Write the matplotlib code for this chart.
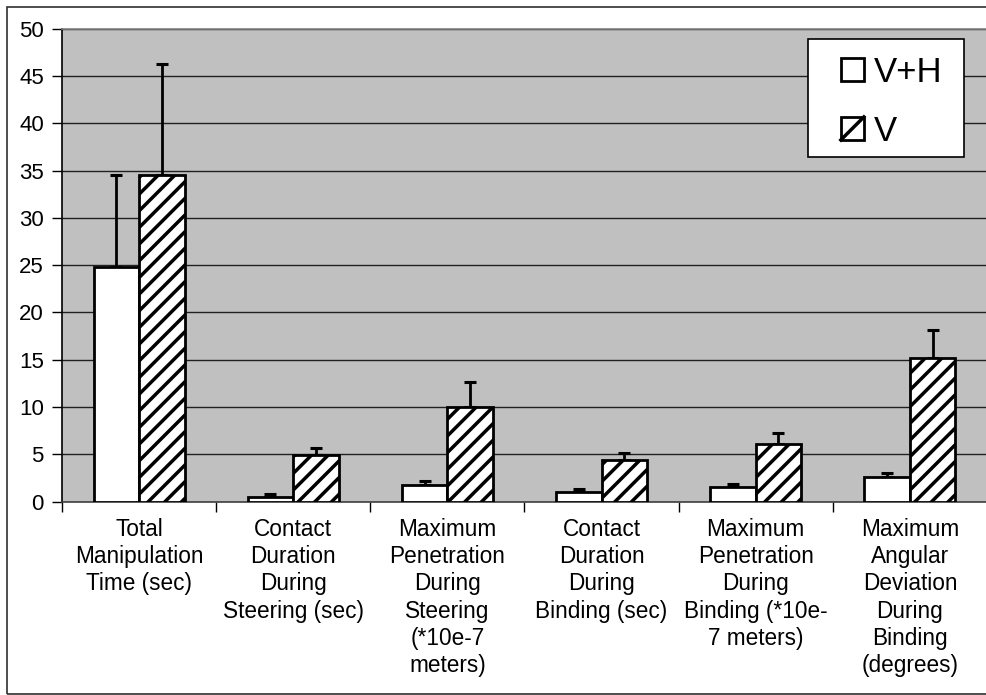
import numpy as np
import matplotlib.pyplot as plt
from matplotlib.patches import Rectangle

plt.rcParams['font.family'] = ['Liberation Sans', 'DejaVu Sans']
plt.rcParams['hatch.linewidth'] = 2.5

# data
categories = ['Total\nManipulation\nTime (sec)',
              'Contact\nDuration\nDuring\nSteering (sec)',
              'Maximum\nPenetration\nDuring\nSteering\n(*10e-7\nmeters)',
              'Contact\nDuration\nDuring\nBinding (sec)',
              'Maximum\nPenetration\nDuring\nBinding (*10e-\n7 meters)',
              'Maximum\nAngular\nDeviation\nDuring\nBinding\n(degrees)']
series = ['V+H', 'V']
vh_mean = [24.8, 0.5, 1.8, 1.0, 1.5, 2.6]
vh_err = [9.8, 0.25, 0.4, 0.3, 0.4, 0.4]
v_mean = [34.6, 4.9, 10.0, 4.4, 6.1, 15.2]
v_err = [11.7, 0.8, 2.6, 0.7, 1.1, 3.0]

x = np.arange(len(categories))
w = 0.295

fig = plt.figure(figsize=(9.87, 6.95), dpi=100)
ax = fig.add_axes([0.0628, 0.2784, 0.9372, 0.6799])
ax.set_facecolor('#c0c0c0')

# outer chart frame
fig.patches.append(Rectangle((0.0071, 0.0014), 1.0, 0.9885, transform=fig.transFigure,
                             fill=False, edgecolor='#303030', linewidth=1.2))

ax.bar(x - w / 2, vh_mean, w, color='white', edgecolor='black', linewidth=2, zorder=3)
ax.bar(x + w / 2, v_mean, w, color='white', edgecolor='black', linewidth=2,
       hatch='//', zorder=3)
ax.errorbar(x - w / 2, vh_mean, yerr=[np.zeros(len(x)), vh_err], fmt='none',
            ecolor='black', elinewidth=2, capsize=4, capthick=2.2, zorder=2)
ax.errorbar(x + w / 2, v_mean, yerr=[np.zeros(len(x)), v_err], fmt='none',
            ecolor='black', elinewidth=2, capsize=4, capthick=2.2, zorder=2)

ax.set_xlim(-0.5, len(x) - 0.5)
ax.set_ylim(0, 50)
ax.set_yticks(np.arange(0, 51, 5))
ax.yaxis.grid(True, color='#202020', linewidth=1)
ax.set_axisbelow(True)

ax.set_xticks(x)
ax.set_xticklabels(categories, fontsize=16.3, linespacing=1.23, va='top')
ax.set_xticks(np.arange(len(x) + 1) - 0.5, minor=True)
ax.tick_params(axis='x', which='major', length=0, pad=12)
ax.tick_params(axis='x', which='minor', length=7, width=1, color='black', direction='out')
ax.tick_params(axis='y', length=7, width=1, labelsize=16, pad=6)

ax.spines['left'].set_color('black')
ax.spines['bottom'].set_color('#404040')
ax.spines['top'].set_color('#808080')
ax.spines['right'].set_color('#808080')
for s in ax.spines.values():
    s.set_linewidth(1.2)

# legend box, drawn by hand to match the original placement
tr = ax.transAxes
ax.add_patch(Rectangle((0.8063, 0.7291), 0.1688, 0.2497, transform=tr,
                       facecolor='white', edgecolor='black', linewidth=1.2, zorder=5))
ax.add_patch(Rectangle((0.8420, 0.8899), 0.0249, 0.0487, transform=tr,
                       facecolor='white', edgecolor='black', linewidth=2, zorder=6))
box_v = Rectangle((0.8420, 0.7651), 0.0249, 0.0487, transform=tr,
                  facecolor='white', edgecolor='black', linewidth=2, zorder=6)
ax.add_patch(box_v)
ax.plot([0.8420, 0.8669], [0.7651, 0.8138], transform=tr, color='black',
        linewidth=2.5, zorder=6.5, clip_path=box_v)
ax.text(0.8777, 0.8878, series[0], transform=tr, fontsize=25, va='baseline', zorder=7)
ax.text(0.8777, 0.7630, series[1], transform=tr, fontsize=25, va='baseline', zorder=7)

fig.savefig('out.png', dpi=100)
